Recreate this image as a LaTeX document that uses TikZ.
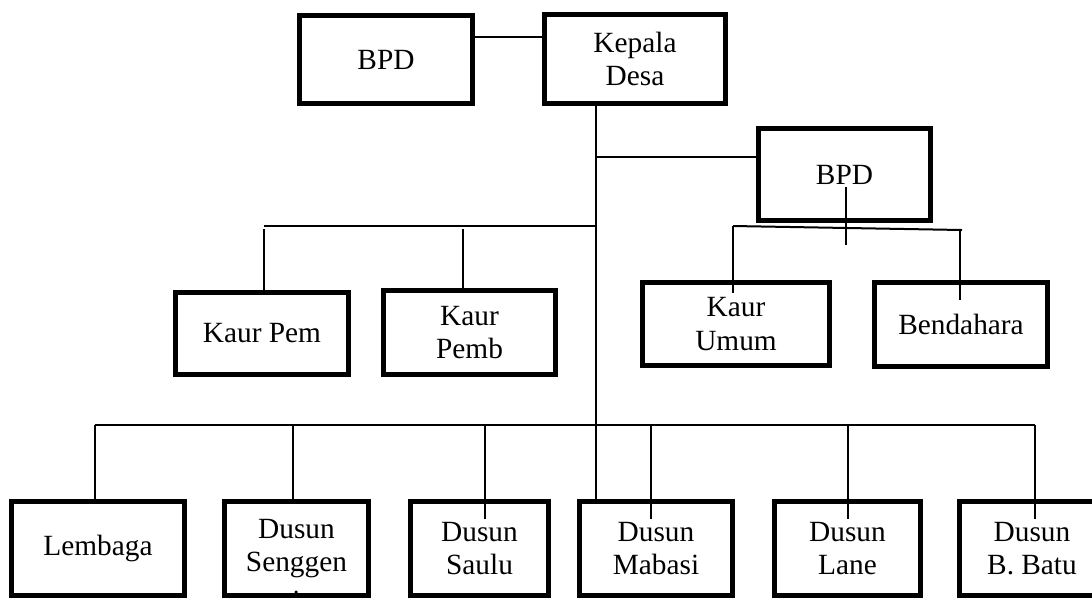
\documentclass[tikz,border=0pt]{standalone}
\usepackage{fontspec}
\setmainfont{Liberation Serif}
\usetikzlibrary{calc}
\begin{document}
\begin{tikzpicture}[x=0.75pt,y=-0.75pt,
  txt/.style={font=\fontsize{22}{25}\selectfont,inner sep=0pt,outer sep=0pt,align=center},
  box/.style={draw,line width=3.8pt,txt},
  sz/.style 2 args={minimum width=0.75pt*#1,minimum height=0.75pt*#2},
  conn/.style={line width=1.5pt}]
\useasboundingbox (0,0) rectangle (1092,601);
\clip (0,0) rectangle (1092,601);
% top row
\node[box,sz={173}{88}] (bpd1) at (386,59.5) {BPD};
\node[box,sz={181}{89}] (kades) at (635,59) {Kepala\\Desa};
\node[box,sz={172}{92}] (bpd2) at (844.5,174.5) {BPD};
% middle row
\node[box,sz={173}{82}] (kaurpem) at (262,333.5) {Kaur Pem};
\node[box,sz={172}{84}] (kaurpemb) at (469.5,332.5) {Kaur\\Pemb};
\node[box,sz={187}{83}] (kaurumum) at (736,324) {Kaur\\Umum};
\node[box,sz={173}{84}] (bendahara) at (961,324.5) {Bendahara};
% bottom row
\node[box,sz={173}{94}] (lembaga) at (98,548.5) {Lembaga};
\node[box,sz={144}{94}] (senggen) at (296.5,548.5) {Dusun\\Senggen};
\begin{scope}
\clip (senggen.north west) rectangle (senggen.south east);
\node[txt,anchor=base] (senggeni) at ($(senggen.center)+(0,61.5)$) {i};
\end{scope}
\node[box,sz={138}{94}] (saulu) at (479.5,548.5) {Dusun\\Saulu};
\node[box,sz={153}{94}] (mabasi) at (656,548.5) {Dusun\\Mabasi};
\node[box,sz={146}{94}] (lane) at (847.5,548.5) {Dusun\\Lane};
\node[box,sz={145}{94}] (bbatu) at (1032,548.5) {Dusun\\B. Batu};
% helper coordinates
\coordinate (y37) at (0,37);
\coordinate (y157) at (0,157);
\coordinate (y226) at (0,226);
\coordinate (y229) at (0,229);
\coordinate (bus) at (0,425);
\coordinate (tTop) at ($(kades.south)+(-39,0)$);
\coordinate (tBot) at (tTop |- mabasi.north);
% BPD -- Kepala Desa
\draw[conn] (bpd1.east |- y37) -- (kades.west |- y37);
% trunk
\draw[conn] (tTop) -- (tBot);
% trunk -- BPD right
\draw[conn] (tTop |- y157) -- (bpd2.west |- y157);
% Kaur Pem / Pemb
\coordinate (kpX) at ($(kaurpem.north)+(2,0)$);
\coordinate (kpbX) at ($(kaurpemb.north)+(-6.5,0)$);
\draw[conn] (tTop |- y226) -- (kpX |- y226);
\draw[conn] (kpX |- y229) -- (kpX);
\draw[conn] (kpbX |- y229) -- (kpbX);
% BPD right -> Kaur Umum, Bendahara
\coordinate (bdV1) at ($(bpd2.center)+(1.5,12.5)$);
\coordinate (bdV2) at ($(bpd2.center)+(1.5,70.5)$);
\draw[conn] (bdV1) -- (bdV2);
\coordinate (bL) at ($(kaurumum.north)+(-3,-56.5)$);
\coordinate (bR) at ($(bendahara.north)+(1,-52.5)$);
\draw[conn] (bL) -- (bR);
\draw[conn] (bL) -- ($(kaurumum.north)+(-3,10.5)$);
\draw[conn] ($(bendahara.north)+(-1,-52.5)$) -- ($(bendahara.north)+(-1,17.5)$);
% bottom bus
\coordinate (dLem) at ($(lembaga.north)+(-3,0)$);
\coordinate (dSen) at ($(senggen.north)+(-3.5,0)$);
\coordinate (dSau) at ($(saulu.north)+(5.5,17.5)$);
\coordinate (dMab) at ($(mabasi.north)+(-5,17.5)$);
\coordinate (dLan) at ($(lane.north)+(0.5,17.5)$);
\coordinate (dBat) at ($(bbatu.north)+(3,17.5)$);
\draw[conn] (bus -| dLem) -- (bus -| dBat);
\draw[conn] (bus -| dLem) -- (dLem);
\draw[conn] (bus -| dSen) -- (dSen);
\draw[conn] (bus -| dSau) -- (dSau);
\draw[conn] (bus -| dMab) -- (dMab);
\draw[conn] (bus -| dLan) -- (dLan);
\draw[conn] (bus -| dBat) -- (dBat);
\end{tikzpicture}
\end{document}
